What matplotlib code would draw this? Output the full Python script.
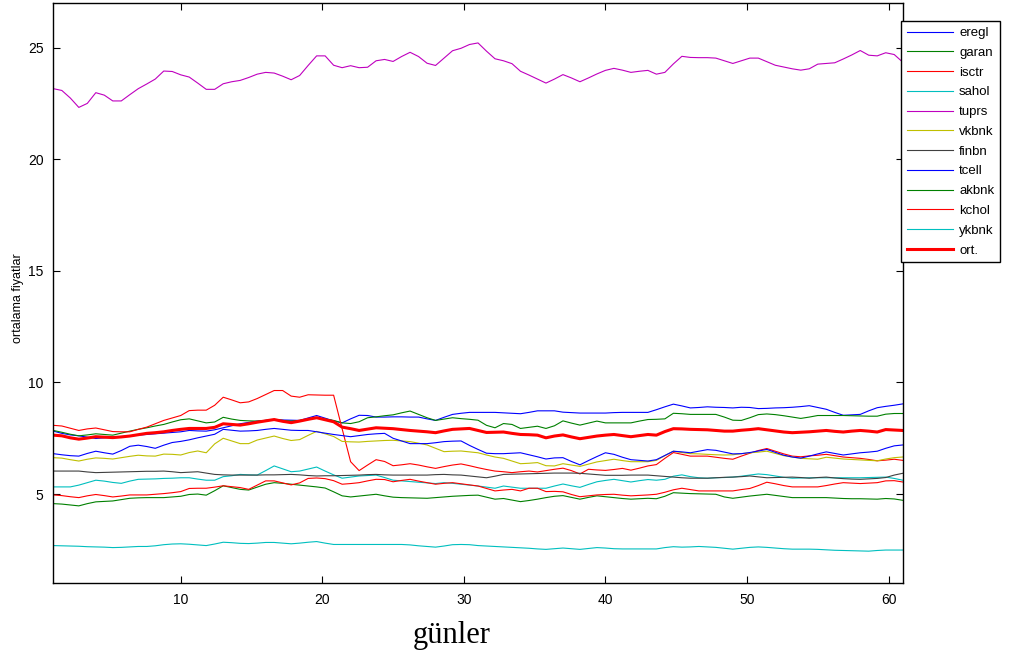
import numpy as np
import matplotlib
matplotlib.use('Agg')
import matplotlib.pyplot as plt

plt.rcParams['font.family'] = ['Liberation Sans', 'DejaVu Sans']

# 101 samples between day 1 and day 61
days = np.linspace(1, 61, 101)

eregl = [7.82, 7.72, 7.65, 7.61, 7.55, 7.49, 7.52, 7.55, 7.58, 7.60, 7.64, 7.67, 7.70, 7.73, 7.76, 7.79, 7.85, 7.83, 7.82, 7.88,
         7.97, 8.06, 8.15, 8.21, 8.27, 8.30, 8.34, 8.32, 8.31, 8.30, 8.41, 8.52, 8.40, 8.28, 8.19, 8.37, 8.53, 8.52, 8.45, 8.45,
         8.46, 8.46, 8.45, 8.45, 8.37, 8.30, 8.44, 8.57, 8.62, 8.66, 8.66, 8.66, 8.66, 8.64, 8.62, 8.60, 8.66, 8.73, 8.73, 8.73,
         8.67, 8.65, 8.63, 8.63, 8.63, 8.63, 8.65, 8.66, 8.66, 8.66, 8.66, 8.78, 8.91, 9.03, 8.95, 8.86, 8.88, 8.91, 8.89, 8.88,
         8.86, 8.89, 8.88, 8.83, 8.84, 8.86, 8.87, 8.89, 8.92, 8.96, 8.88, 8.80, 8.66, 8.53, 8.55, 8.57, 8.73, 8.87, 8.93, 8.98,
         9.04]
garan = [7.85, 7.77, 7.68, 7.61, 7.65, 7.70, 7.67, 7.64, 7.73, 7.82, 7.90, 7.97, 8.05, 8.12, 8.23, 8.33, 8.37, 8.28, 8.19, 8.23,
         8.44, 8.36, 8.30, 8.28, 8.27, 8.30, 8.34, 8.30, 8.27, 8.30, 8.34, 8.42, 8.36, 8.30, 8.19, 8.16, 8.24, 8.42, 8.46, 8.51,
         8.55, 8.64, 8.72, 8.57, 8.42, 8.30, 8.36, 8.42, 8.38, 8.35, 8.31, 8.08, 7.97, 8.16, 8.12, 7.94, 7.99, 8.04, 7.94, 8.06,
         8.28, 8.18, 8.09, 8.18, 8.27, 8.19, 8.19, 8.19, 8.19, 8.27, 8.34, 8.35, 8.37, 8.62, 8.60, 8.57, 8.57, 8.57, 8.57, 8.45,
         8.31, 8.30, 8.42, 8.56, 8.59, 8.56, 8.51, 8.45, 8.39, 8.45, 8.52, 8.52, 8.52, 8.52, 8.51, 8.50, 8.49, 8.49, 8.58, 8.61,
         8.61]
isctr = [8.08, 8.05, 7.95, 7.85, 7.92, 7.96, 7.88, 7.80, 7.79, 7.79, 7.90, 8.00, 8.15, 8.30, 8.41, 8.52, 8.74, 8.76, 8.76, 8.98,
         9.34, 9.22, 9.09, 9.13, 9.28, 9.46, 9.64, 9.64, 9.39, 9.34, 9.45, 9.44, 9.43, 9.43, 7.93, 6.45, 6.05, 6.30, 6.54, 6.46,
         6.27, 6.31, 6.36, 6.30, 6.22, 6.15, 6.23, 6.30, 6.35, 6.27, 6.18, 6.10, 6.03, 6.00, 5.96, 6.00, 6.03, 5.99, 6.05, 6.11,
         6.16, 6.05, 5.90, 6.11, 6.08, 6.06, 6.10, 6.15, 6.07, 6.16, 6.26, 6.32, 6.60, 6.86, 6.78, 6.70, 6.70, 6.70, 6.65, 6.60,
         6.56, 6.70, 6.83, 6.95, 7.04, 6.92, 6.80, 6.70, 6.67, 6.71, 6.74, 6.78, 6.72, 6.66, 6.63, 6.60, 6.55, 6.49, 6.52, 6.56,
         6.51]
sahol = [5.32, 5.32, 5.32, 5.40, 5.51, 5.62, 5.58, 5.52, 5.48, 5.58, 5.66, 5.67, 5.68, 5.70, 5.71, 5.73, 5.73, 5.67, 5.62, 5.62,
         5.78, 5.82, 5.88, 5.86, 5.85, 6.05, 6.26, 6.13, 6.00, 6.03, 6.12, 6.21, 6.03, 5.86, 5.71, 5.76, 5.81, 5.83, 5.85, 5.74,
         5.62, 5.59, 5.56, 5.53, 5.50, 5.47, 5.51, 5.48, 5.44, 5.40, 5.36, 5.31, 5.26, 5.36, 5.31, 5.26, 5.26, 5.26, 5.26, 5.36,
         5.45, 5.37, 5.30, 5.43, 5.55, 5.61, 5.66, 5.60, 5.54, 5.60, 5.65, 5.62, 5.66, 5.80, 5.86, 5.78, 5.73, 5.71, 5.73, 5.74,
         5.76, 5.80, 5.85, 5.90, 5.87, 5.81, 5.75, 5.71, 5.72, 5.73, 5.73, 5.73, 5.73, 5.73, 5.73, 5.73, 5.74, 5.75, 5.76, 5.70,
         5.62]
tuprs = [23.17, 23.09, 22.75, 22.33, 22.51, 22.99, 22.88, 22.62, 22.62, 22.90, 23.17, 23.38, 23.60, 23.96, 23.94, 23.79, 23.69,
         23.42, 23.14, 23.14, 23.39, 23.48, 23.54, 23.67, 23.82, 23.90, 23.87, 23.73, 23.57, 23.76, 24.21, 24.64, 24.64, 24.22,
         24.11, 24.20, 24.11, 24.13, 24.42, 24.48, 24.39, 24.61, 24.80, 24.61, 24.31, 24.21, 24.54, 24.87, 24.98, 25.15, 25.22,
         24.85, 24.51, 24.42, 24.29, 23.95, 23.78, 23.60, 23.42, 23.60, 23.80, 23.65, 23.48, 23.65, 23.83, 23.99, 24.08, 24.00,
         23.90, 23.95, 23.99, 23.82, 23.90, 24.28, 24.62, 24.57, 24.56, 24.56, 24.54, 24.42, 24.30, 24.42, 24.54, 24.54, 24.38,
         24.22, 24.14, 24.06, 24.00, 24.06, 24.27, 24.30, 24.33, 24.50, 24.68, 24.88, 24.67, 24.64, 24.78, 24.70, 24.36]
vkbnk = [6.63, 6.61, 6.54, 6.48, 6.56, 6.62, 6.60, 6.57, 6.63, 6.69, 6.74, 6.71, 6.70, 6.79, 6.78, 6.75, 6.86, 6.93, 6.85, 7.25,
         7.50, 7.38, 7.26, 7.26, 7.42, 7.51, 7.60, 7.49, 7.40, 7.44, 7.63, 7.81, 7.70, 7.58, 7.36, 7.34, 7.33, 7.36, 7.38, 7.40,
         7.41, 7.38, 7.35, 7.28, 7.20, 7.05, 6.90, 6.92, 6.93, 6.89, 6.85, 6.75, 6.66, 6.60, 6.48, 6.36, 6.38, 6.41, 6.27, 6.26,
         6.36, 6.30, 6.24, 6.34, 6.44, 6.50, 6.56, 6.50, 6.45, 6.45, 6.45, 6.51, 6.72, 6.92, 6.86, 6.81, 6.80, 6.78, 6.76, 6.75,
         6.76, 6.81, 6.85, 6.88, 6.92, 6.82, 6.72, 6.66, 6.60, 6.58, 6.56, 6.65, 6.61, 6.57, 6.55, 6.53, 6.51, 6.49, 6.57, 6.63,
         6.66]
finbn = [6.03, 6.03, 6.03, 6.03, 5.99, 5.96, 5.97, 5.98, 5.99, 6.00, 6.01, 6.02, 6.02, 6.03, 6.00, 5.96, 5.98, 6.00, 5.94, 5.88,
         5.86, 5.85, 5.85, 5.85, 5.85, 5.86, 5.86, 5.87, 5.88, 5.86, 5.83, 5.81, 5.82, 5.82, 5.83, 5.84, 5.85, 5.87, 5.88, 5.86,
         5.85, 5.85, 5.85, 5.85, 5.85, 5.87, 5.88, 5.86, 5.85, 5.81, 5.77, 5.73, 5.80, 5.88, 5.89, 5.90, 5.91, 5.92, 5.93, 5.94,
         5.94, 5.94, 5.93, 5.90, 5.87, 5.84, 5.84, 5.84, 5.85, 5.85, 5.85, 5.82, 5.79, 5.76, 5.73, 5.71, 5.71, 5.71, 5.73, 5.75,
         5.76, 5.78, 5.81, 5.77, 5.73, 5.74, 5.75, 5.76, 5.74, 5.71, 5.74, 5.76, 5.72, 5.69, 5.67, 5.66, 5.68, 5.70, 5.74, 5.85,
         5.93]
tcell = [6.81, 6.76, 6.72, 6.70, 6.82, 6.92, 6.85, 6.79, 6.95, 7.14, 7.19, 7.13, 7.05, 7.19, 7.31, 7.36, 7.43, 7.52, 7.60, 7.68,
         7.90, 7.86, 7.82, 7.83, 7.85, 7.90, 7.94, 7.90, 7.86, 7.85, 7.85, 7.79, 7.73, 7.67, 7.62, 7.57, 7.62, 7.67, 7.70, 7.72,
         7.50, 7.38, 7.26, 7.26, 7.26, 7.30, 7.35, 7.37, 7.38, 7.18, 7.00, 6.83, 6.81, 6.81, 6.83, 6.85, 6.76, 6.67, 6.57, 6.62,
         6.63, 6.46, 6.31, 6.50, 6.68, 6.85, 6.78, 6.65, 6.54, 6.51, 6.48, 6.54, 6.73, 6.92, 6.89, 6.85, 6.92, 6.99, 6.96, 6.88,
         6.80, 6.81, 6.86, 6.93, 7.00, 6.87, 6.74, 6.66, 6.61, 6.70, 6.80, 6.89, 6.82, 6.75, 6.80, 6.85, 6.88, 6.92, 7.05, 7.16,
         7.20]
akbnk = [4.57, 4.55, 4.51, 4.47, 4.57, 4.65, 4.67, 4.69, 4.75, 4.81, 4.83, 4.84, 4.84, 4.84, 4.87, 4.90, 4.98, 5.00, 4.95, 5.15,
         5.37, 5.29, 5.21, 5.18, 5.31, 5.44, 5.51, 5.48, 5.44, 5.40, 5.36, 5.32, 5.27, 5.10, 4.92, 4.87, 4.91, 4.95, 4.99, 4.92,
         4.86, 4.84, 4.83, 4.82, 4.81, 4.84, 4.87, 4.90, 4.92, 4.94, 4.95, 4.86, 4.77, 4.80, 4.73, 4.66, 4.71, 4.77, 4.84, 4.90,
         4.93, 4.85, 4.77, 4.85, 4.92, 4.88, 4.84, 4.80, 4.77, 4.79, 4.81, 4.79, 4.90, 5.06, 5.04, 5.02, 5.01, 5.00, 4.99, 4.87,
         4.81, 4.86, 4.91, 4.95, 4.99, 4.94, 4.89, 4.84, 4.84, 4.84, 4.84, 4.84, 4.82, 4.80, 4.79, 4.79, 4.78, 4.77, 4.80, 4.78,
         4.72]
kchol = [4.96, 4.93, 4.88, 4.84, 4.92, 4.98, 4.93, 4.87, 4.91, 4.96, 4.96, 4.96, 4.99, 5.02, 5.06, 5.11, 5.25, 5.26, 5.26, 5.31,
         5.37, 5.33, 5.29, 5.21, 5.40, 5.59, 5.59, 5.50, 5.41, 5.50, 5.70, 5.72, 5.69, 5.60, 5.44, 5.47, 5.51, 5.59, 5.66, 5.65,
         5.55, 5.61, 5.66, 5.58, 5.51, 5.44, 5.48, 5.51, 5.46, 5.41, 5.36, 5.25, 5.14, 5.18, 5.21, 5.14, 5.26, 5.26, 5.11, 5.12,
         5.10, 4.98, 4.88, 4.92, 4.96, 4.98, 4.99, 4.95, 4.92, 4.94, 4.96, 4.99, 5.08, 5.19, 5.26, 5.20, 5.14, 5.14, 5.14, 5.14,
         5.14, 5.20, 5.25, 5.38, 5.53, 5.46, 5.38, 5.32, 5.32, 5.32, 5.32, 5.38, 5.45, 5.51, 5.49, 5.47, 5.49, 5.51, 5.59, 5.60,
         5.54]
ykbnk = [2.69, 2.68, 2.67, 2.66, 2.64, 2.63, 2.62, 2.60, 2.61, 2.63, 2.65, 2.65, 2.68, 2.73, 2.76, 2.77, 2.75, 2.72, 2.69, 2.76,
         2.84, 2.82, 2.79, 2.78, 2.80, 2.83, 2.83, 2.80, 2.77, 2.80, 2.84, 2.87, 2.80, 2.74, 2.74, 2.74, 2.74, 2.74, 2.74, 2.74,
         2.74, 2.74, 2.72, 2.68, 2.65, 2.62, 2.67, 2.73, 2.74, 2.73, 2.69, 2.67, 2.65, 2.63, 2.61, 2.59, 2.57, 2.54, 2.52, 2.55,
         2.58, 2.55, 2.52, 2.56, 2.60, 2.58, 2.55, 2.54, 2.54, 2.54, 2.54, 2.54, 2.60, 2.64, 2.62, 2.63, 2.65, 2.63, 2.61, 2.57,
         2.53, 2.57, 2.61, 2.63, 2.61, 2.58, 2.55, 2.53, 2.53, 2.53, 2.52, 2.50, 2.48, 2.47, 2.46, 2.45, 2.44, 2.47, 2.49, 2.49,
         2.49]
ort = [7.64, 7.61, 7.52, 7.46, 7.51, 7.57, 7.55, 7.53, 7.56, 7.60, 7.66, 7.72, 7.75, 7.79, 7.85, 7.90, 7.94, 7.94, 7.94, 7.99,
       8.15, 8.12, 8.09, 8.15, 8.22, 8.28, 8.34, 8.26, 8.20, 8.27, 8.35, 8.42, 8.33, 8.24, 8.00, 7.93, 7.85, 7.91, 7.97, 7.95,
       7.93, 7.89, 7.85, 7.82, 7.79, 7.75, 7.83, 7.90, 7.92, 7.94, 7.85, 7.76, 7.77, 7.78, 7.72, 7.67, 7.66, 7.64, 7.52, 7.60,
       7.65, 7.56, 7.48, 7.54, 7.60, 7.64, 7.67, 7.62, 7.57, 7.62, 7.67, 7.64, 7.80, 7.93, 7.92, 7.90, 7.89, 7.88, 7.85, 7.82,
       7.82, 7.86, 7.89, 7.93, 7.88, 7.83, 7.78, 7.75, 7.77, 7.79, 7.82, 7.85, 7.81, 7.78, 7.82, 7.85, 7.82, 7.78, 7.89, 7.87,
       7.85]

series_names = ['eregl', 'garan', 'isctr', 'sahol', 'tuprs', 'vkbnk', 'finbn',
                'tcell', 'akbnk', 'kchol', 'ykbnk']
series_values = [eregl, garan, isctr, sahol, tuprs, vkbnk, finbn,
                 tcell, akbnk, kchol, ykbnk]

# old MATLAB colour order
matlab_colors = [(0, 0, 1), (0, 0.5, 0), (1, 0, 0), (0, 0.75, 0.75),
                 (0.75, 0, 0.75), (0.75, 0.75, 0), (0.25, 0.25, 0.25)]

fig = plt.figure(figsize=(10.12, 6.57), dpi=100)
ax = fig.add_axes([0.0527, 0.1122, 0.8393, 0.8829])

handles = []
for k, (name, vals) in enumerate(zip(series_names, series_values)):
    h, = ax.plot(days, vals, color=matlab_colors[k % 7], lw=0.8, label=name)
    handles.append(h)
h, = ax.plot(days, ort, color='red', lw=2.2, label='ort.')
handles.append(h)

ax.set_xlim(1, 61)
ax.set_ylim(1, 27)
ax.set_xticks([10, 20, 30, 40, 50, 60])
ax.set_yticks([5, 10, 15, 20, 25])
ax.tick_params(direction='in', length=5.3, width=0.8, top=True, right=True,
               labelsize=10, pad=7)
for s in ax.spines.values():
    s.set_linewidth(1.0)

fig.text(18 / 1012, 1 - 298 / 657, 'ortalama fiyatlar', rotation=90,
         ha='center', va='center', fontsize=9)
fig.text(452 / 1012, 1 - 636 / 657, 'günler', ha='center', va='center',
         fontsize=22, family=['Liberation Serif', 'DejaVu Serif'])

leg = fig.legend(handles, [h.get_label() for h in handles], loc='upper left',
                 bbox_to_anchor=(901 / 1012, 1 - 21 / 657),
                 bbox_transform=fig.transFigure, borderaxespad=0,
                 fontsize=9.5, handlelength=3.5, handletextpad=0.45,
                 labelspacing=0.57, borderpad=0.45, frameon=True,
                 fancybox=False, framealpha=1)
leg.get_frame().set_edgecolor('black')
leg.get_frame().set_linewidth(1.0)

fig.savefig('out.png', dpi=100)
